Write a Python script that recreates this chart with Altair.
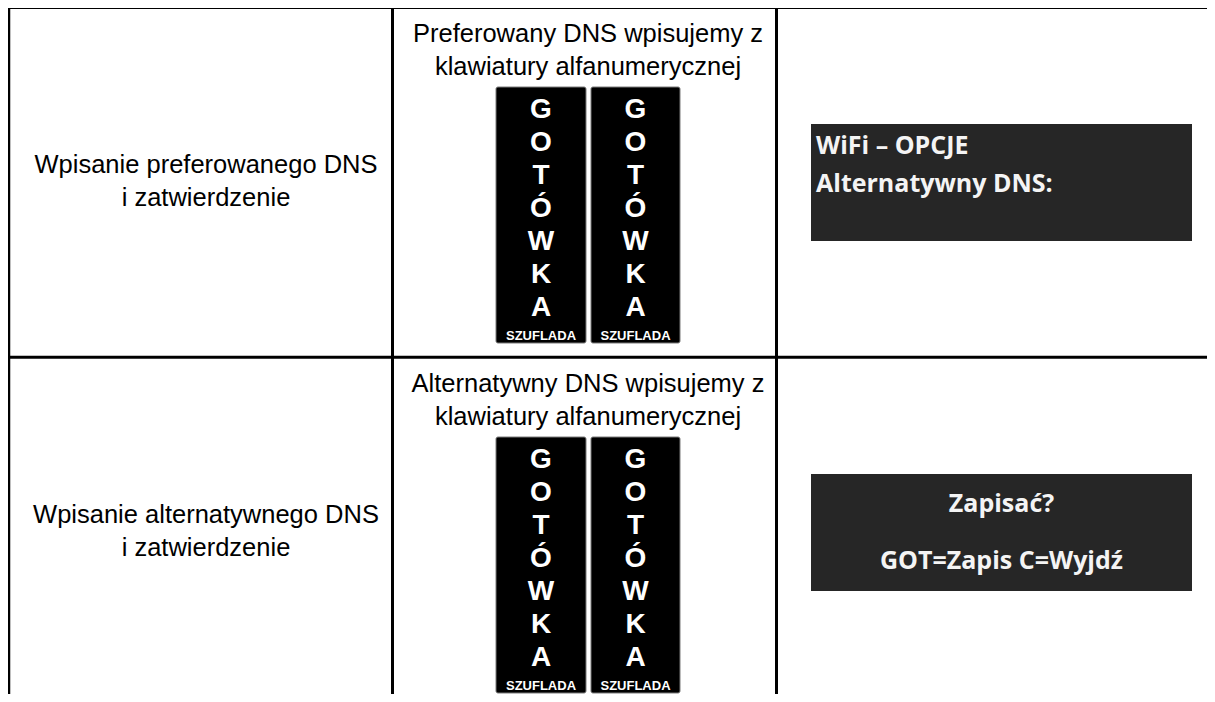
import altair as alt
import pandas as pd

# ---------------- data (texts) ----------------
row_labels = [
    ["Wpisanie preferowanego DNS", "i zatwierdzenie"],
    ["Wpisanie alternatywnego DNS", "i zatwierdzenie"],
]
instructions = [
    ["Preferowany DNS wpisujemy z", "klawiatury alfanumerycznej"],
    ["Alternatywny DNS wpisujemy z", "klawiatury alfanumerycznej"],
]
screen_lines = [
    ["WiFi – OPCJE", "Alternatywny DNS:"],
    ["Zapisać?", "GOT=Zapis C=Wyjdź"],
]
screen_align = ["left", "center"]
key_letters = ["G", "O", "T", "Ó", "W", "K", "A"]
key_caption = "SZUFLADA"

# ---------------- layout (page pixels) ----------------
W, H = 1199, 686
X0, Y0 = 8, 8
row_top = [7, 357]
col_lines = [(9, 2.5), (392.5, 3), (776.5, 3)]
left_cx, mid_cx = 206, 588
keys_x = [(496, 586), (591, 680)]
screen_x = (811, 1192)

rules, rects, keys, plain, scr_left, scr_center, letters, captions = ([] for _ in range(8))

for cx, w in col_lines:
    rules.append(dict(x=cx, x2=cx, y=6, y2=720, w=w))
rules.append(dict(x=8, x2=1230, y=7.5, y2=7.5, w=3))
rules.append(dict(x=8, x2=1230, y=357.3, y2=357.3, w=3))

for r, top in enumerate(row_top):
    for i, line in enumerate(row_labels[r]):
        plain.append(dict(x=left_cx, y=top + 166 + i * 32.5, t=line))
    for i, line in enumerate(instructions[r]):
        plain.append(dict(x=mid_cx, y=top + 35 + i * 33, t=line))
    for kx0, kx1 in keys_x:
        keys.append(dict(x=kx0, x2=kx1, y=top + 80, y2=top + 336))
        kc = (kx0 + kx1) / 2
        for j, ch in enumerate(key_letters):
            letters.append(dict(x=kc, y=top + 110.5 + j * 33, t=ch))
        captions.append(dict(x=kc, y=top + 332.5, t=key_caption))
    rects.append(dict(x=screen_x[0], x2=screen_x[1], y=top + 117, y2=top + 234))
    if screen_align[r] == "left":
        for i, line in enumerate(screen_lines[r]):
            scr_left.append(dict(x=screen_x[0] + 5, y=top + 147 + i * 38, t=line))
    else:
        cx = (screen_x[0] + screen_x[1]) / 2
        for i, line in enumerate(screen_lines[r]):
            scr_center.append(dict(x=cx, y=top + 155 + i * 57, t=line))

xs = alt.Scale(domain=[X0, X0 + W], nice=False, zero=False)
ys = alt.Scale(domain=[Y0, Y0 + H], nice=False, zero=False, reverse=True)

def X(f="x"):
    return alt.X(f"{f}:Q", scale=xs, axis=None)

def Y(f="y"):
    return alt.Y(f"{f}:Q", scale=ys, axis=None)

rule_layer = alt.Chart(pd.DataFrame(rules)).mark_rule(color="black").encode(
    x=X(), x2="x2:Q", y=Y(), y2="y2:Q", strokeWidth=alt.StrokeWidth("w:Q", scale=None)
)
screen_layer = alt.Chart(pd.DataFrame(rects)).mark_rect(color="#262626").encode(
    x=X(), x2="x2:Q", y=Y(), y2="y2:Q"
)
key_layer = alt.Chart(pd.DataFrame(keys)).mark_rect(
    color="#000000", stroke="#7a7a7a", strokeWidth=1, cornerRadius=2
).encode(x=X(), x2="x2:Q", y=Y(), y2="y2:Q")

plain_layer = alt.Chart(pd.DataFrame(plain)).mark_text(
    font="Liberation Sans", fontSize=25.5, color="#000000", align="center", baseline="alphabetic"
).encode(x=X(), y=Y(), text="t:N")

letter_layer = alt.Chart(pd.DataFrame(letters)).mark_text(
    font="Liberation Sans", fontWeight="bold", fontSize=28, color="#ffffff",
    align="center", baseline="alphabetic"
).encode(x=X(), y=Y(), text="t:N")

caption_layer = alt.Chart(pd.DataFrame(captions)).mark_text(
    font="Liberation Sans", fontWeight="bold",
    fontSize=13, color="#ffffff", align="center", baseline="alphabetic"
).encode(x=X(), y=Y(), text="t:N")

scr_left_layer = alt.Chart(pd.DataFrame(scr_left)).mark_text(
    font="Open Sans", fontWeight="bold", fontSize=25, color="#f4f4f4",
    align="left", baseline="alphabetic"
).encode(x=X(), y=Y(), text="t:N")

scr_center_layer = alt.Chart(pd.DataFrame(scr_center)).mark_text(
    font="Open Sans", fontWeight="bold", fontSize=25, color="#f4f4f4",
    align="center", baseline="alphabetic"
).encode(x=X(), y=Y(), text="t:N")

chart = alt.layer(
    screen_layer, key_layer, rule_layer, plain_layer, letter_layer,
    caption_layer, scr_left_layer, scr_center_layer
).properties(
    width=W, height=H, padding=0, autosize=alt.AutoSizeParams(type="none")
).configure_view(stroke=None).configure(background="white")

chart.save("out.html", embed_options={"renderer": "svg", "actions": False})
